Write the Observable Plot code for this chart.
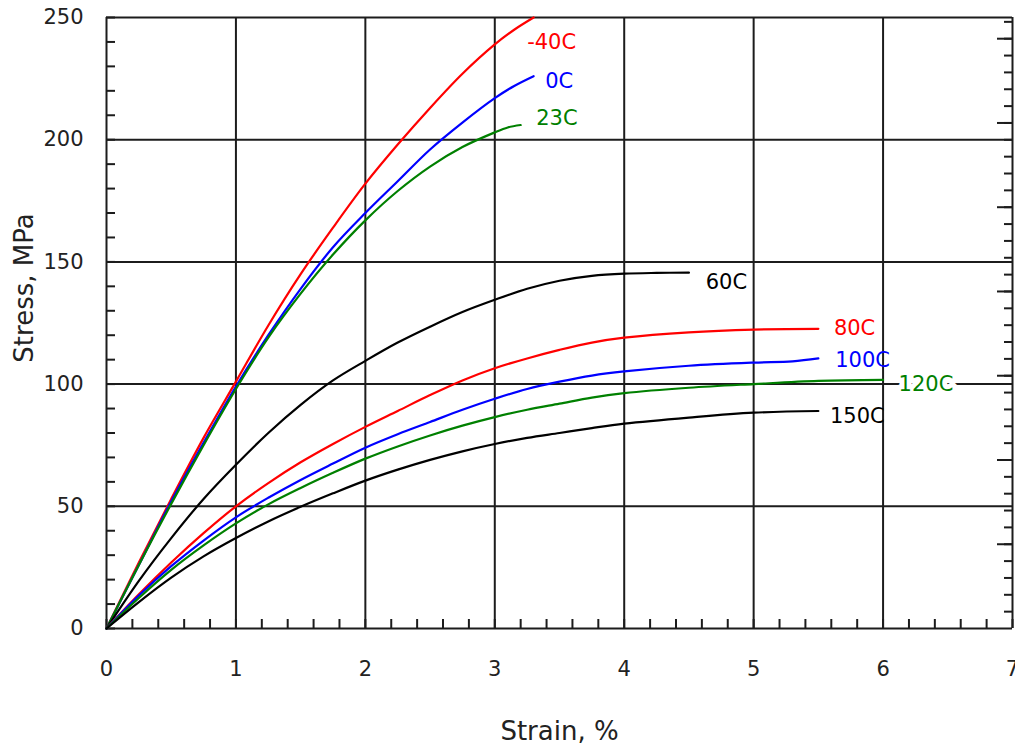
<!DOCTYPE html>
<html>
<head>
<meta charset="utf-8">
<script src="https://cdn.jsdelivr.net/npm/d3@7"></script>
<script src="https://cdn.jsdelivr.net/npm/@observablehq/plot@0.6"></script>
<style>
  html, body { margin: 0; padding: 0; background: #fff; overflow: hidden; }
</style>
</head>
<body>
<div id="chart"></div>
<script>
// Series labels and colours
const temps  = ["-40C", "0C", "23C", "60C", "80C", "100C", "120C", "150C"];
const colors = ["#ff0000", "#0000ff", "#008000", "#000000", "#ff0000", "#0000ff", "#008000", "#000000"];

// Strain (%) / stress (MPa) for each temperature
const strainM40 = [0, 0.25, 0.5, 0.75, 1, 1.25, 1.5, 1.75, 2, 2.25, 2.5, 2.75, 3, 3.15, 3.3];
const stressM40 = [0, 27, 53, 78, 101, 124, 145, 164, 182, 198, 213, 227, 239, 245, 250];

const strain0 = [0, 0.25, 0.5, 0.75, 1, 1.25, 1.5, 1.75, 2, 2.25, 2.5, 2.75, 3, 3.15, 3.3];
const stress0 = [0, 26, 52, 76, 99, 120, 139, 156, 170, 183, 196, 207, 217, 222, 226];

const strain23 = [0, 0.25, 0.5, 0.75, 1, 1.25, 1.5, 1.75, 2, 2.25, 2.5, 2.75, 3, 3.1, 3.2];
const stress23 = [0, 26, 51, 75, 98, 119, 137, 153, 167, 179, 189, 197, 203, 205, 206];

const strain60 = [0, 0.25, 0.5, 0.75, 1, 1.25, 1.5, 1.75, 2, 2.25, 2.5, 2.75, 3, 3.25, 3.5, 3.75, 4, 4.25, 4.5];
const stress60 = [0, 19.5, 37, 53, 67, 80, 91.5, 101.5, 109.5, 117, 123.5, 129.5, 134.5, 139, 142.3, 144.3, 145.2, 145.5, 145.6];

const strain80 = [0, 0.25, 0.5, 0.75, 1, 1.25, 1.5, 1.75, 2, 2.25, 2.5, 2.75, 3, 3.25, 3.5, 3.75, 4, 4.5, 5, 5.5];
const stress80 = [0, 14, 27, 39, 50, 59.5, 68, 75.5, 82.5, 89, 95.5, 101.5, 106.5, 110.5, 114, 117, 119, 121.2, 122.3, 122.6];

const strain100 = [0, 0.25, 0.5, 0.75, 1, 1.25, 1.5, 1.75, 2, 2.25, 2.5, 2.75, 3, 3.25, 3.5, 3.75, 4, 4.5, 5, 5.3, 5.5];
const stress100 = [0, 13.5, 25.5, 36, 45.5, 53.5, 60.8, 67.5, 74, 79.5, 84.5, 89.5, 94, 98, 101, 103.5, 105.2, 107.5, 108.8, 109.3, 110.5];

const strain120 = [0, 0.25, 0.5, 0.75, 1, 1.25, 1.5, 1.75, 2, 2.25, 2.5, 2.75, 3, 3.25, 3.5, 3.75, 4, 4.5, 5, 5.5, 6];
const stress120 = [0, 12.5, 24, 34, 43, 50.8, 57.5, 63.7, 69.5, 74.5, 79, 83, 86.5, 89.5, 92, 94.5, 96.3, 98.5, 100, 101.3, 101.7];

const strain150 = [0, 0.25, 0.5, 0.75, 1, 1.25, 1.5, 1.75, 2, 2.25, 2.5, 2.75, 3, 3.25, 3.5, 3.75, 4, 4.5, 5, 5.5];
const stress150 = [0, 10.8, 20.8, 29.5, 37, 43.8, 49.8, 55.3, 60.5, 65, 69, 72.5, 75.5, 78, 80, 82, 83.8, 86.3, 88.3, 89];

// Curve-label anchor points (data units)
const labelStrain = [3.25, 3.39, 3.32, 4.63, 5.62, 5.63, 6.12, 5.59];
const labelStress = [240, 224, 208.6, 141.6, 123, 109.6, 100, 86.9];
const labelHalo   = [false, false, false, false, false, false, true, false];

// Axis ticks
const xMajor = [0, 1, 2, 3, 4, 5, 6, 7];
const xMinor = d3.range(0, 36).map(i => i / 5);
const yMajor = [0, 50, 100, 150, 200, 250];
const yMinor = d3.range(0, 26).map(i => i * 10);
const ksiMinor = d3.range(1, 37);
const ksiMajor = [5, 10, 15, 20, 25, 30, 35];
const MPA_PER_KSI = 6.895;

const seriesX = [strainM40, strain0, strain23, strain60, strain80, strain100, strain120, strain150];
const seriesY = [stressM40, stress0, stress23, stress60, stress80, stress100, stress120, stress150];

const rows = [];
temps.forEach((t, i) => {
  seriesX[i].forEach((x, j) => rows.push({temp: t, color: colors[i], strain: x, stress: seriesY[i][j]}));
});
const labels = temps.map((t, i) => ({temp: t, color: colors[i], strain: labelStrain[i], stress: labelStress[i], halo: labelHalo[i]}));

const gridColor = "#1c1c1c";

const chart = Plot.plot({
  width: 1015,
  height: 748,
  marginLeft: 106,
  marginRight: 3,
  marginTop: 17,
  marginBottom: 120,
  style: {fontFamily: "DejaVu Sans", fontSize: "21px", background: "#fff", color: "#222", overflow: "visible"},
  x: {domain: [0, 7]},
  y: {domain: [0, 250]},
  marks: [
    Plot.gridX(xMajor, {stroke: gridColor, strokeOpacity: 1, strokeWidth: 2}),
    Plot.gridY(yMajor, {stroke: gridColor, strokeOpacity: 1, strokeWidth: 2}),
    // minor inward ticks
    Plot.axisX({ticks: xMinor, tickSize: -9, tickFormat: () => "", stroke: gridColor, strokeWidth: 2, label: null}),
    Plot.axisY({ticks: yMinor, tickSize: -9, tickFormat: () => "", stroke: gridColor, strokeWidth: 2, label: null}),
    // right-hand ksi ticks (unlabelled)
    Plot.axisY({anchor: "right", ticks: ksiMinor.map(k => k * MPA_PER_KSI), tickSize: -9, tickFormat: () => "", stroke: gridColor, strokeWidth: 2, label: null}),
    Plot.axisY({anchor: "right", ticks: ksiMajor.map(k => k * MPA_PER_KSI), tickSize: -16, tickFormat: () => "", stroke: gridColor, strokeWidth: 2, label: null}),
    // labelled axes
    Plot.axisX({ticks: xMajor, tickSize: 0, tickPadding: 33, tickFormat: d3.format("d"), label: null, fontSize: 21, fill: "#222"}),
    Plot.axisY({ticks: yMajor, tickSize: 0, tickPadding: 23, tickFormat: d3.format("d"), label: null, fontSize: 21, fill: "#222"}),
    // curves
    Plot.line(rows, {x: "strain", y: "stress", z: "temp", stroke: "color", strokeWidth: 2.2, curve: "catmull-rom"}),
    // curve labels
    Plot.text(labels.filter(d => d.halo), {x: "strain", y: "stress", text: "temp", fill: "color", stroke: "white", strokeWidth: 10, paintOrder: "stroke", textAnchor: "start", fontSize: 21}),
    Plot.text(labels.filter(d => !d.halo), {x: "strain", y: "stress", text: "temp", fill: "color", textAnchor: "start", fontSize: 21}),
    // axis titles
    Plot.text(["Strain, %"], {frameAnchor: "bottom", textAnchor: "middle", lineAnchor: "middle", dy: 103, fontSize: 26, fill: "#222"}),
    Plot.text(["Stress, MPa"], {frameAnchor: "left", textAnchor: "middle", lineAnchor: "middle", rotate: -90, dx: -82, dy: -35, fontSize: 26, fill: "#222"})
  ]
});

document.getElementById("chart").appendChild(chart);
</script>
</body>
</html>
